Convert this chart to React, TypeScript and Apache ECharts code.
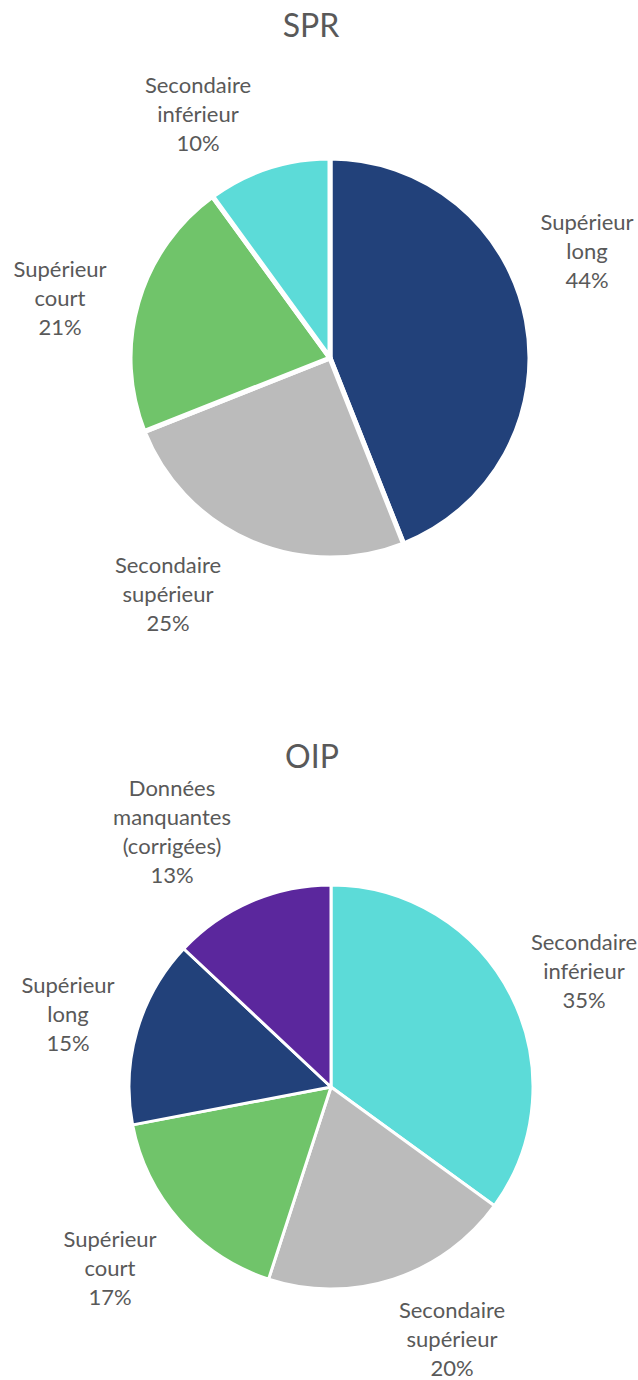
import React, { useEffect, useRef } from "react";
import * as echarts from "echarts";

const sprCategories = ["Supérieur long", "Secondaire supérieur", "Supérieur court", "Secondaire inférieur"];
const sprValues = [44, 25, 21, 10];
const sprColors = ["#22417A", "#BBBBBB", "#70C46A", "#5CDBD8"];
const sprLabelPos: [number, number][] = [[587, 250], [168, 593], [60, 297], [198, 113]];

const oipCategories = ["Secondaire inférieur", "Secondaire supérieur", "Supérieur court", "Supérieur long", "Données manquantes (corrigées)"];
const oipValues = [35, 20, 17, 15, 13];
const oipColors = ["#5CDBD8", "#BBBBBB", "#70C46A", "#22417A", "#5B279D"];
const oipLabelPos: [number, number][] = [[584, 970], [452, 1338], [110, 1267], [68, 1013], [172, 831]];

const FONT = "Lato, 'Open Sans', sans-serif";
const TEXT = "#595959";

function wrapName(name: string): string {
  return name.split(" ").join("\n");
}

export default function App() {
  const ref = useRef<HTMLDivElement>(null);
  useEffect(() => {
    if (!ref.current) return;
    document.body.style.margin = "0";
    const chart = echarts.init(ref.current, undefined, { renderer: "svg" });
    const labelStyle = {
      show: true,
      position: "outside" as const,
      fontFamily: FONT,
      fontSize: 22,
      lineHeight: 29,
      color: TEXT,
      align: "center" as const,
      overflow: "none" as const,
      formatter: (p: any) => wrapName(p.name) + "\n" + p.value + "%",
    };
    const makeLayout = (pos: [number, number][]) => (p: any) => ({
      x: pos[p.dataIndex][0],
      y: pos[p.dataIndex][1],
      align: "center",
      verticalAlign: "middle",
    });
    chart.setOption({
      animation: false,
      backgroundColor: "#ffffff",
      title: [
        {
          text: "SPR",
          left: 306,
          top: 3,
          textAlign: "center",
          textStyle: { fontFamily: FONT, fontSize: 32, fontWeight: "normal", color: TEXT },
        },
        {
          text: "OIP",
          left: 307,
          top: 734,
          textAlign: "center",
          textStyle: { fontFamily: FONT, fontSize: 32, fontWeight: "normal", color: TEXT },
        },
      ],
      series: [
        {
          type: "pie",
          center: [330, 358],
          radius: 200,
          startAngle: 90,
          clockwise: true,
          emphasis: { disabled: true },
          itemStyle: { borderColor: "#ffffff", borderWidth: 5 },
          label: labelStyle,
          labelLine: { show: false },
          labelLayout: makeLayout(sprLabelPos),
          data: sprCategories.map((c, i) => ({
            name: c,
            value: sprValues[i],
            itemStyle: { color: sprColors[i] },
          })),
        },
        {
          type: "pie",
          center: [331, 1087],
          radius: 202,
          startAngle: 90,
          clockwise: true,
          emphasis: { disabled: true },
          itemStyle: { borderColor: "#ffffff", borderWidth: 3 },
          label: labelStyle,
          labelLine: { show: false },
          labelLayout: makeLayout(oipLabelPos),
          data: oipCategories.map((c, i) => ({
            name: c,
            value: oipValues[i],
            itemStyle: { color: oipColors[i] },
          })),
        },
      ],
    });
    return () => chart.dispose();
  }, []);
  return (
    <div
      ref={ref}
      style={{ position: "absolute", left: 0, top: 0, width: 638, height: 1380 }}
    />
  );
}
